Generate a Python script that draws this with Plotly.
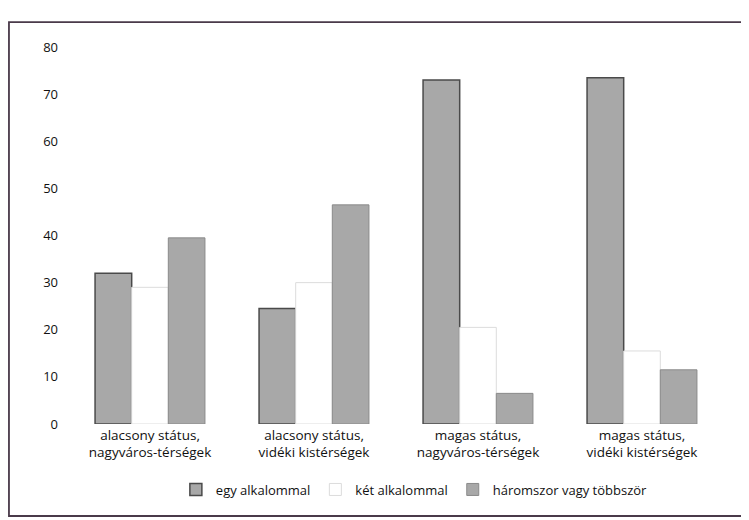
import plotly.graph_objects as go

categories = [
    "alacsony státus,<br>nagyváros-térségek",
    "alacsony státus,<br>vidéki kistérségek",
    "magas státus,<br>nagyváros-térségek",
    "magas státus,<br>vidéki kistérségek",
]
egy = [32, 24.5, 73, 73.5]
ket = [29, 30, 20.5, 15.5]
harom = [39.5, 46.5, 6.5, 11.5]
y_ticks = [0, 10, 20, 30, 40, 50, 60, 70, 80]

fig = go.Figure()

fig.add_trace(go.Bar(
    x=categories, y=egy, name="egy alkalommal",
    marker=dict(color="#a8a8a8", line=dict(color="#4a4a4a", width=1.5))
))
fig.add_trace(go.Bar(
    x=categories, y=ket, name="két alkalommal",
    marker=dict(color="#ffffff", line=dict(color="#dcdcdc", width=1))
))
fig.add_trace(go.Bar(
    x=categories, y=harom, name="háromszor vagy többször",
    marker=dict(color="#a8a8a8", line=dict(color="#8a8a8a", width=1))
))

fig.update_xaxes(showline=False, showgrid=False, ticks="",
                 tickfont=dict(size=13.5, color="#111"), ticklabelstandoff=1)
fig.update_yaxes(range=[0, 80], tickvals=y_ticks, showgrid=False,
                 showline=False, zeroline=False, ticks="",
                 tickfont=dict(size=13, color="#111"), ticklabelstandoff=9)

# scanned frame around the chart
fig.add_shape(type="rect", xref="paper", yref="paper",
              x0=-0.090, x1=1.0366, y0=-0.244, y1=1.066,
              line=dict(color="#4a3a4a", width=1.8), layer="below")

fig.update_layout(
    width=749,
    height=520,
    template="plotly_white",
    plot_bgcolor="white",
    paper_bgcolor="white",
    font=dict(family="Open Sans", color="#111"),
    barmode="group",
    bargap=0.33,
    bargroupgap=0,
    margin=dict(l=60, r=33, t=39, b=104),
    showlegend=True,
    legend=dict(orientation="h", x=0.528, xanchor="center", y=-0.134,
                yanchor="top", font=dict(size=13), itemwidth=30),
)

fig.write_html("out.html")
